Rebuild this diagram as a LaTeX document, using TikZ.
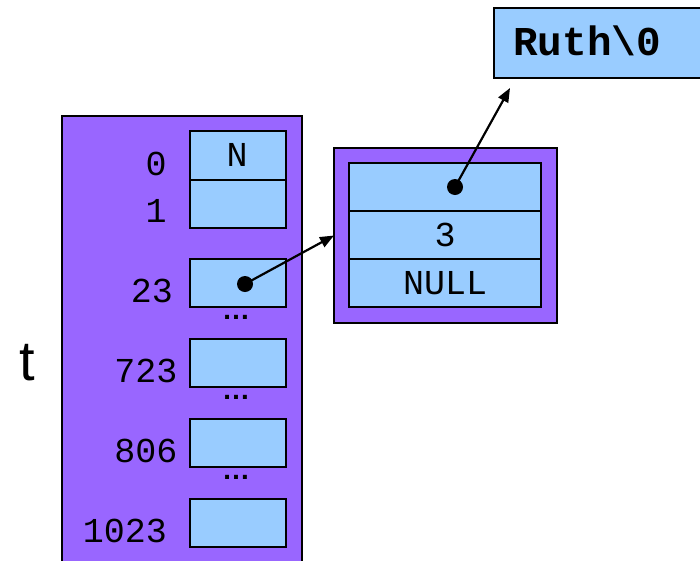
\documentclass[tikz,border=0pt]{standalone}
\usepackage{fontspec}
\usetikzlibrary{arrows.meta}
\newfontfamily\monofont{Liberation Mono}
\newfontfamily\labelsans{Liberation Sans}
\definecolor{tablepurple}{HTML}{9966FF}
\definecolor{cellblue}{HTML}{99CCFF}

\begin{document}
\begin{tikzpicture}[x=1pt,y=-1pt,
  frame/.style={draw=black, line width=2.5pt, fill=tablepurple, inner sep=0pt, outer sep=0pt},
  cell/.style={draw=black, line width=2.5pt, fill=cellblue, inner sep=0pt, outer sep=0pt,
               minimum height=48pt},
  slot/.style={cell, minimum width=96pt},
  field/.style={cell, minimum width=192pt},
  idx/.style={anchor=base, inner sep=0pt, font=\monofont\fontsize{35}{40}\selectfont},
  val/.style={anchor=base, inner sep=0pt, font=\monofont\fontsize{35}{40}\selectfont},
  gap/.style={anchor=base, inner sep=0pt, font=\labelsans\bfseries\fontsize{28}{30}\selectfont},
  ptrdot/.style={circle, fill=black, inner sep=0pt, minimum size=16pt},
  ptr/.style={line width=2.2pt, -{Triangle[length=14pt,width=11pt]}}]

\useasboundingbox (0,0) rectangle (700,560);

% hash table array
\node[frame, minimum width=240pt, minimum height=449pt] (table) at (182,340.5) {};
\node[slot, minimum height=49pt] (s0) at (238,155.5) {};
\node[slot] (s1) at (238,204) {};
\node[slot] (s23) at (238,283) {};
\node[slot] (s723) at (238,363) {};
\node[slot] (s806) at (238,443) {};
\node[slot] (s1023) at (238,523) {};

\node[val] (n0) at (237,166) {N};

% bucket indices
\node[idx] (i0) at (156,175) {0};
\node[idx] (i1) at (156,222) {1};
\node[idx] (i23) at (152,302) {23};
\node[idx] (i723) at (146,382) {723};
\node[idx] (i806) at (146,462) {806};
\node[idx] (i1023) at (125,542) {1023};

% elided buckets
\node[gap] (g1) at (236,319) {…};
\node[gap] (g2) at (236,399) {…};
\node[gap] (g3) at (236,479) {…};

\node[anchor=base, inner sep=0pt, font=\labelsans\fontsize{56}{60}\selectfont] (tname) at (27,380) {t};

% list node record
\node[frame, minimum width=223pt, minimum height=175pt] (rec) at (445.5,235.5) {};
\node[field] (fkey) at (445,187) {};
\node[field] (fval) at (445,235) {};
\node[field] (fnext) at (445,283) {};
\node[val] (v3) at (445,246) {3};
\node[val] (vnull) at (445,294) {NULL};

% string
\node[cell, minimum width=211pt, minimum height=70pt] (ruth) at (599.5,43) {};
\node[anchor=base west, inner sep=0pt, font=\monofont\bfseries\fontsize{41}{44}\selectfont] (rtext) at (513,55) {Ruth\textbackslash0};
\coordinate (ruthptr) at (510,88);

% pointers
\node[ptrdot] (p23) at (245,284) {};
\node[ptrdot] (pkey) at (455,187) {};
\draw[ptr] (p23.center) -- (rec.west);
\draw[ptr] (pkey.center) -- (ruthptr);
\end{tikzpicture}
\end{document}
